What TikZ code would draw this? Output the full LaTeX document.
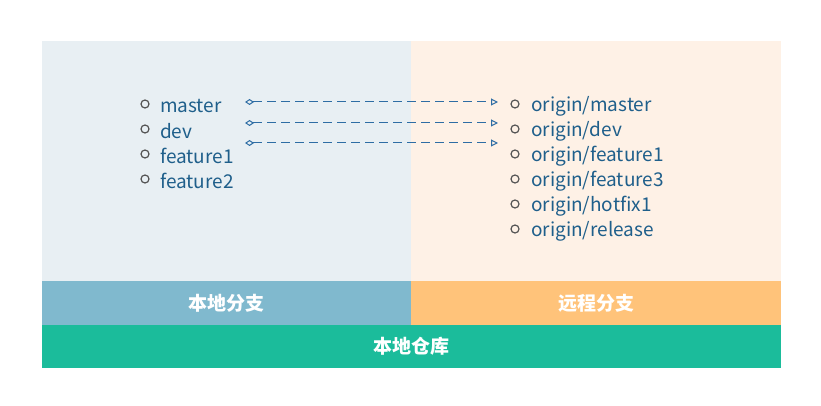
\documentclass[tikz,border=0pt]{standalone}
\usepackage{fontspec}
\setmainfont{Noto Sans CJK SC}
\usetikzlibrary{arrows.meta}
\definecolor{lpanel}{HTML}{E8EFF3}
\definecolor{rpanel}{HTML}{FEF1E6}
\definecolor{lbar}{HTML}{80B9CE}
\definecolor{rbar}{HTML}{FFC37A}
\definecolor{repo}{HTML}{1BBC9B}
\definecolor{txt}{HTML}{1F5F8B}
\definecolor{arr}{HTML}{2E6DA4}
\definecolor{bul}{HTML}{555555}
\begin{document}
\begin{tikzpicture}[x=1pt,y=-1pt,
  item/.style={anchor=west,inner sep=0pt,text=txt,font=\fontsize{19}{22}\selectfont},
  bullet/.style={circle,draw=bul,line width=1.2pt,minimum size=8pt,inner sep=0pt},
  bartext/.style={text=white,font=\fontsize{19}{22}\selectfont\bfseries},
  link/.style={draw=arr,line width=1pt,dash pattern=on 9pt off 5pt,
    {Diamond[open,length=9pt,width=6pt,sep=0pt]}-{Triangle[open,length=7pt,width=7pt]}}]
\useasboundingbox (0,0) rectangle (821,406);
\fill[white] (0,0) rectangle (821,406);
% panels
\fill[lpanel] (42,41) rectangle (411,281);
\fill[rpanel] (411,41) rectangle (781,281);
% bars
\node[fill=lbar,minimum width=369pt,minimum height=44pt,inner sep=0pt,anchor=north west] (lb) at (42,281) {};
\node[bartext] (lbt) at (lb.center) {本地分支};
\node[fill=rbar,minimum width=370pt,minimum height=44pt,inner sep=0pt,anchor=north west] (rb) at (411,281) {};
\node[bartext] (rbt) at (rb.center) {远程分支};
\node[fill=repo,minimum width=739pt,minimum height=43pt,inner sep=0pt,anchor=north west] (rp) at (42,325) {};
\node[bartext] (rpt) at (rp.center) {本地仓库};
% local list
\foreach \t [count=\i] in {master,dev,feature1,feature2}{
  \node[bullet] (lbul\i) at (145,{79+25*\i}) {};
  \node[item] (l\i) at (160,{81+25*\i}) {\t};
}
% remote list
\foreach \t [count=\i] in {origin/master,origin/dev,origin/feature1,origin/feature3,origin/hotfix1,origin/release}{
  \node[bullet] (rbul\i) at (515,{79+25*\i}) {};
  \node[item] (r\i) at (531,{81+25*\i}) {\t};
}
% links
\coordinate (s1) at (245,102); \coordinate (e1) at (498,102);
\coordinate (s2) at (245,123); \coordinate (e2) at (498,123);
\coordinate (s3) at (245,143); \coordinate (e3) at (498,143);
\draw[link] (s1) -- (e1);
\draw[link] (s2) -- (e2);
\draw[link] (s3) -- (e3);
\end{tikzpicture}
\end{document}
